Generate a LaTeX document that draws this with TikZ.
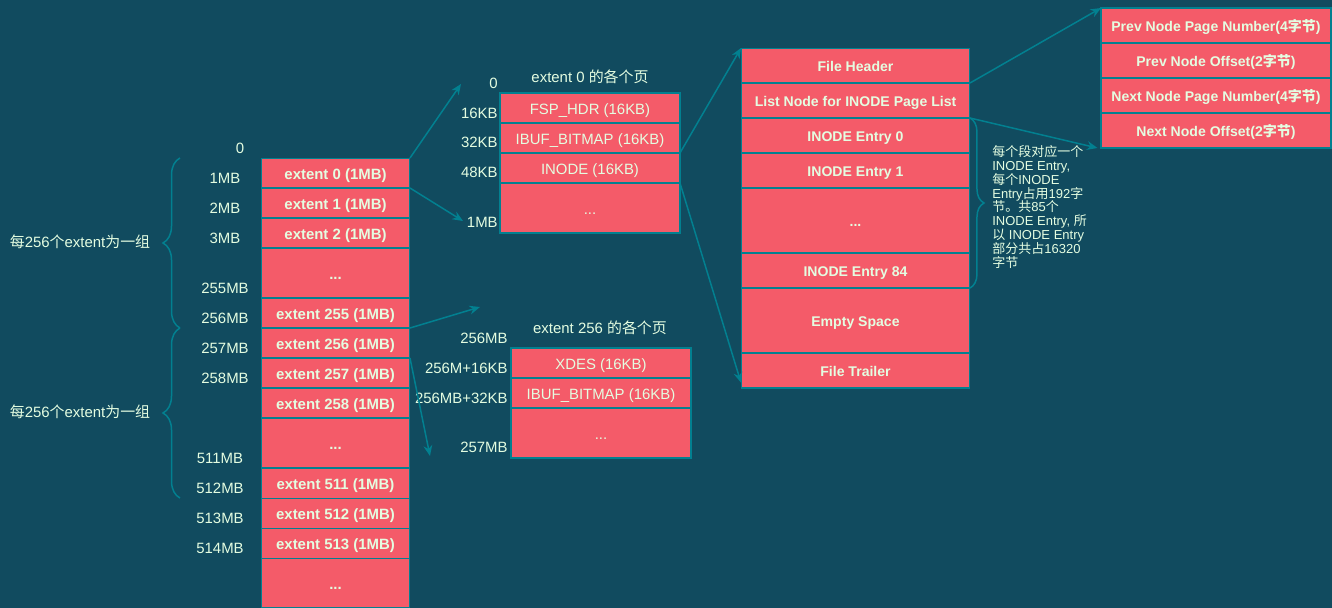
\documentclass[tikz,border=0pt]{standalone}
\usepackage{fontspec}
\setmainfont{Liberation Sans}
\newfontfamily\cjk{Noto Sans CJK SC}
\newcommand\zh[1]{{\cjk #1}}
\newcommand\more{...}
\usetikzlibrary{positioning}
\usetikzlibrary{arrows.meta}
\usetikzlibrary{decorations.pathreplacing}
\definecolor{bgteal}{HTML}{114B5F}
\definecolor{cellred}{HTML}{F45B69}
\definecolor{lineteal}{HTML}{028090}
\definecolor{pale}{HTML}{E4FDE1}

\begin{document}
\begin{tikzpicture}[x=0.02cm,y=-0.02cm,
	cell/.style={draw=lineteal,fill=cellred,text=pale,inner sep=0pt,outer sep=0pt,line width=0.57pt,
		text height=0.72em,text depth=0pt,font=\fontsize{8.5}{10}\selectfont\bfseries},
	page/.style={cell,line width=1.1pt,minimum width=3.6cm,font=\fontsize{8.5}{10}\selectfont},
	field/.style={cell,minimum width=4.58cm,font=\fontsize{8}{10}\selectfont\bfseries},
	link/.style={lineteal,line width=0.85pt,-{Stealth[length=6pt,width=5pt]}},
	lbl/.style={text=pale,inner sep=0pt,font=\fontsize{8.5}{10}\selectfont},
	grp/.style={lineteal,line width=0.85pt,decorate,decoration={brace,amplitude=0.34cm}}]
	\useasboundingbox (0,0) rectangle (1332,608);
	\fill[bgteal] (0,0) rectangle (1332,608);
	% extents of the table space
	\foreach \n/\y/\h/\t in {ext0/173/0.6/extent 0 (1MB),ext1/203/0.6/extent 1 (1MB),ext2/233/0.6/extent 2 (1MB),
		extA/273/1/\more,ext255/313/0.6/extent 255 (1MB),ext256/343/0.6/extent 256 (1MB),
		ext257/373/0.6/extent 257 (1MB),ext258/403/0.6/extent 258 (1MB),extB/443/1/\more,
		ext511/483/0.6/extent 511 (1MB),ext512/513/0.6/extent 512 (1MB),ext513/543/0.6/extent 513 (1MB),extC/583/1/\more}
		\node[cell,minimum width=2.98cm,minimum height=\h cm] (\n) at (335.5,\y) {\t};
	\foreach \t/\x/\y [count=\i] in {0/240/148,1MB/225/178,2MB/225/208,3MB/225/238,255MB/225/288,256MB/225/318,
		257MB/225/348,258MB/225/378,511MB/220/458,512MB/220/488,513MB/220/518,514MB/220/548}
		\node[lbl] (off\i) at (\x,\y) {\t};
	\draw[grp] (180,328) -- (180,158);
	\draw[grp] (180,498) -- (180,328);
	\node[lbl] (grpA) at (80,242) {\zh{每}256\zh{个}extent\zh{为一组}};
	\node[lbl] (grpB) at (80,412) {\zh{每}256\zh{个}extent\zh{为一组}};

	% pages of extent 0
	\node[lbl] (ttl0) at (590,77) {extent 0 \zh{的各个页}};
	\foreach \n/\y/\h/\t in {fsp/108/0.6/FSP\_HDR (16KB),ibuf/138/0.6/IBUF\_BITMAP (16KB),
		inode/168/0.6/INODE (16KB),pgdots/208/1/\more}
		\node[page,minimum height=\h cm] (\n) at (590,\y) {\t};
	\foreach \t/\y [count=\i] in {0/83,16KB/113,32KB/142,48KB/172,1MB/222}
		\node[lbl,anchor=east] (pgoff\i) at (498,\y) {\t};

	% pages of extent 256
	\node[lbl] (ttl256) at (600,328) {extent 256 \zh{的各个页}};
	\foreach \n/\y/\h/\t in {xdes/363/0.6/XDES (16KB),ibufb/393/0.6/IBUF\_BITMAP (16KB),pgdotsb/433/1/\more}
		\node[page,minimum height=\h cm] (\n) at (601,\y) {\t};
	\foreach \t/\y [count=\i] in {256MB/338,256M+16KB/368,256MB+32KB/398,257MB/447}
		\node[lbl,anchor=east] (pgoffb\i) at (508,\y) {\t};

	\coordinate (up0) at (461,84);
	\coordinate (dn0) at (463,221);
	\coordinate (up256) at (480,307);
	\coordinate (dn256) at (430,456);
	\draw[link] (ext0.north east) -- (up0);
	\draw[link] (ext0.south east) -- (dn0);
	\draw[link] (ext255.south east) -- (up256);
	\draw[link] (ext256.south east) -- (dn256);

	% INODE page
	\foreach \n/\y/\h/\t in {fhdr/65.5/0.7/File Header,lnode/100.5/0.7/List Node for INODE Page List,
		ent0/135.5/0.7/INODE Entry 0,ent1/170.5/0.7/INODE Entry 1,entdots/220.5/1.3/\more,
		ent84/270.5/0.7/INODE Entry 84,empty/320.5/1.3/Empty Space,ftrl/370.5/0.7/File Trailer}
		\node[field,minimum height=\h cm] (\n) at (855.5,\y) {\t};
	\draw[link] (inode.north east) -- (fhdr.north west);
	\draw[link] (inode.south east) -- ([yshift=3pt]ftrl.south west);
	\draw[grp,decoration={brace,amplitude=0.28cm}] (ent0.north east) -- (ent84.south east);
	\node[lbl,anchor=north west,align=left,font=\fontsize{7.4}{7.9}\selectfont] (note) at (992,145)
		{\zh{每个段对应一个}\\INODE Entry,\\\zh{每个}INODE\\Entry\zh{占用}192\zh{字}\\\zh{节。共}85\zh{个}\\
		INODE Entry, \zh{所}\\\zh{以} INODE Entry\\\zh{部分共占}16320\\\zh{字节}};

	% list node fields
	\foreach \n/\y/\t in {prevpg/25.5/Prev Node Page Number(4\zh{字节}),prevoff/60.5/Prev Node Offset(2\zh{字节}),
		nextpg/95.5/Next Node Page Number(4\zh{字节}),nextoff/130.5/Next Node Offset(2\zh{字节})}
		\node[field,line width=1.1pt,minimum width=4.6cm,minimum height=0.7cm] (\n) at (1216,\y) {\t};
	\draw[link] (fhdr.south east) -- (prevpg.north west);
	\draw[link] (ent0.north east) -- ([xshift=-2pt]nextoff.south west);
\end{tikzpicture}
\end{document}
